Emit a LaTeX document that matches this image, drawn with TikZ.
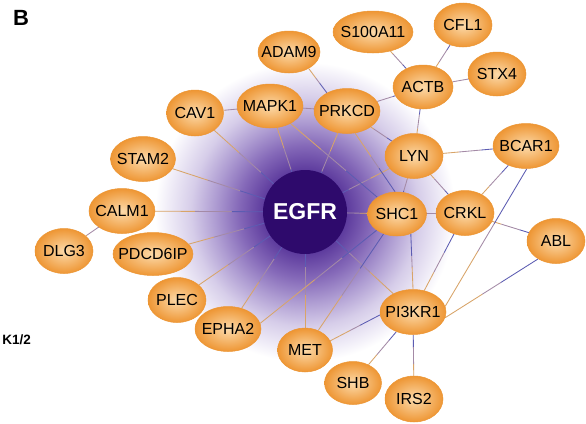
\documentclass[tikz,border=0pt]{standalone}
\usepackage{fontspec}
\setmainfont{Liberation Sans}
\usetikzlibrary{shapes.geometric,calc}
\definecolor{geneIn}{HTML}{FCDAAA}
\definecolor{geneOut}{HTML}{EE9634}
\definecolor{geneEdge}{HTML}{EC9634}
\definecolor{egfrFill}{HTML}{2E0A6C}
\definecolor{edgeTan}{HTML}{D8A468}
\definecolor{edgeMid}{HTML}{A48AA6}
\definecolor{edgeBlue}{HTML}{5C5CB2}
\definecolor{glowA}{HTML}{5E3C9E}
\definecolor{glowB}{HTML}{8468B8}
\definecolor{glowC}{HTML}{AE9CD2}
\definecolor{glowD}{HTML}{D6CDE9}
\definecolor{glowE}{HTML}{F1EEF8}
\pgfdeclareradialshading{egfrglow}{\pgfpoint{0bp}{0bp}}{color(0bp)=(glowA); color(7bp)=(glowA); color(11bp)=(glowB); color(15bp)=(glowC); color(19bp)=(glowD); color(23bp)=(glowE); color(25bp)=(white); color(50bp)=(white)}
\pgfdeclarelayer{glowlayer}
\pgfdeclarelayer{edgelayer}
\pgfsetlayers{glowlayer,edgelayer,main}
\tikzset{
  gene/.style={ellipse, inner sep=0pt, inner color=geneIn, outer color=geneOut,
    draw=geneEdge, line width=0.5pt, font=\fontsize{16}{19}\selectfont, text=black},
  hub/.style={circle, inner sep=0pt, fill=egfrFill, minimum size=84pt,
    font=\bfseries\fontsize{23}{25}\selectfont, text=white},
  edgeT/.style={draw=edgeTan, line width=0.85pt},
  edgeM/.style={draw=edgeMid, line width=0.85pt},
  edgeB/.style={draw=edgeBlue, line width=0.85pt},
  lbl/.style={inner sep=0pt, font=\bfseries}
}
\newcommand\gn[5]{\node[gene,minimum width=#3pt,minimum height=#4pt] (#1) at (#2) {\makebox[0pt]{#5}};}
\newcommand\lnk[2]{%
  \draw[edgeT] (#1) -- ($(#1)!0.4!(#2)$);
  \draw[edgeM] ($(#1)!0.4!(#2)$) -- ($(#1)!0.6!(#2)$);
  \draw[edgeB] ($(#1)!0.6!(#2)$) -- (#2);}
\begin{document}
\begin{tikzpicture}[x=1pt,y=-1pt]
\useasboundingbox (0,0) rectangle (586,423);
% nodes
\node[hub] (EGFR) at (305,212) {\makebox[0pt]{EGFR}};
\gn{ADAM9}{289,52}{62}{42}{ADAM9}
\gn{S100A11}{373,32}{80}{42}{S100A11}
\gn{CFL1}{463,25}{58}{44}{CFL1}
\gn{STX4}{497,74}{58}{44}{STX4}
\gn{ACTB}{423,87}{60}{44}{ACTB}
\gn{CAV1}{195,113}{57}{46}{CAV1}
\gn{MAPK1}{270,106}{66}{44}{MAPK1}
\gn{PRKCD}{347,111}{66}{45}{PRKCD}
\gn{STAM2}{143,159}{65}{45}{STAM2}
\gn{LYN}{414,156}{58}{45}{LYN}
\gn{BCAR1}{526,146}{66}{45}{BCAR1}
\gn{CALM1}{122,211}{66}{45}{CALM1}
\gn{SHC1}{397,214}{59}{44}{SHC1}
\gn{CRKL}{465,213}{58}{45}{CRKL}
\gn{ABL}{556,241}{58}{45}{ABL}
\gn{DLG3}{64,251}{58}{45}{DLG3}
\gn{PDCD6IP}{153,254}{80}{43}{PDCD6IP}
\gn{PLEC}{177,300}{58}{45}{PLEC}
\gn{EPHA2}{228,329}{66}{45}{EPHA2}
\gn{MET}{305,350}{55}{44}{MET}
\gn{PI3KR1}{413,312}{66}{45}{PI3KR1}
\gn{SHB}{353,383}{57}{43}{SHB}
\gn{IRS2}{414,399}{58}{46}{IRS2}
\node[lbl, font=\bfseries\fontsize{22}{24}\selectfont] (lblB) at (21,18) {B};
\node[lbl, anchor=east, font=\bfseries\fontsize{13.5}{15}\selectfont] (lblK) at (31,340) {K1/2};
% glow
\begin{pgfonlayer}{glowlayer}
\fill[white] (0,0) rectangle (586,423);
\shade[shading=egfrglow] (EGFR.center) circle[radius=150pt];
\end{pgfonlayer}
% edges
\begin{pgfonlayer}{edgelayer}
\lnk{CAV1}{EGFR}
\lnk{STAM2}{EGFR}
\lnk{CALM1}{EGFR}
\lnk{PDCD6IP}{EGFR}
\lnk{PLEC}{EGFR}
\lnk{EPHA2}{EGFR}
\lnk{MET}{EGFR}
\lnk{PI3KR1}{EGFR}
\lnk{SHC1}{EGFR}
\lnk{LYN}{EGFR}
\lnk{PRKCD}{EGFR}
\lnk{MAPK1}{EGFR}
\lnk{CAV1}{MAPK1}
\lnk{MAPK1}{PRKCD}
\lnk{MAPK1}{SHC1}
\lnk{ADAM9.320}{PRKCD.138}
\lnk{PRKCD}{ACTB}
\lnk{PRKCD}{LYN}
\lnk{PRKCD.290}{SHC1.95}
\lnk{S100A11}{ACTB}
\lnk{ACTB}{CFL1}
\lnk{ACTB}{STX4}
\lnk{LYN}{ACTB}
\lnk{LYN}{BCAR1}
\lnk{LYN}{CRKL}
\lnk{LYN}{SHC1}
\lnk{CRKL}{SHC1}
\lnk{PI3KR1.90}{SHC1.305}
\lnk{PI3KR1}{CRKL}
\lnk{CRKL}{ABL}
\lnk{CRKL}{BCAR1}
\lnk{PI3KR1.10}{BCAR1.272}
\lnk{PI3KR1.350}{ABL.225}
\lnk{SHB}{PI3KR1}
\lnk{IRS2}{PI3KR1}
\lnk{MET.20}{PI3KR1.185}
\lnk{MET}{SHC1}
\lnk{EPHA2.10}{SHC1}
\lnk{DLG3}{CALM1}
\end{pgfonlayer}
\end{tikzpicture}
\end{document}
